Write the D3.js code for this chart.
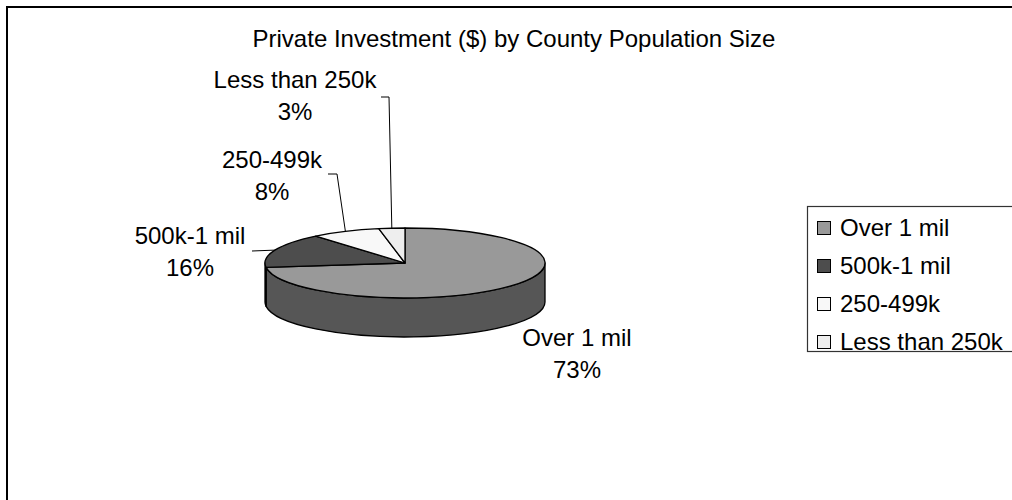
<!DOCTYPE html>
<html>
<head>
<meta charset="utf-8">
<style>
body { margin: 0; background: #fff; }
svg { display: block; font-family: "Liberation Sans", Arial, sans-serif; }
</style>
</head>
<body>
<div id="chart"></div>
<script src="https://d3js.org/d3.v7.min.js"></script>
<script>
// data
var title = "Private Investment ($) by County Population Size";
var categories = ["Over 1 mil", "500k-1 mil", "250-499k", "Less than 250k"];
var shares = [73, 16, 8, 3];
var colors = ["#999999", "#4d4d4d", "#f8f8f8", "#eeeeee"];

var width = 1012, height = 500;
var cx = 405, cy = 263, rx = 140, ry = 35, depth = 39;
var fontSize = 24;

var svg = d3.select("#chart").append("svg")
  .attr("width", width)
  .attr("height", height);

// chart frame (runs off the right and bottom edge)
svg.append("rect")
  .attr("x", 7).attr("y", 7)
  .attr("width", 1100).attr("height", 600)
  .attr("fill", "#fff")
  .attr("stroke", "#000")
  .attr("stroke-width", 2);

svg.append("text")
  .attr("x", 514).attr("y", 39)
  .attr("dy", "0.35em")
  .attr("text-anchor", "middle")
  .style("font-size", fontSize + "px")
  .text(title);

var data = categories.map(function (c, i) { return {key: c, value: shares[i], color: colors[i]}; });
var arcs = d3.pie().sort(null).value(function (d) { return d.value; })(data);

// point on the tilted ellipse, angle clockwise from 12 o'clock
function pt(a, dy) {
  return [cx + rx * Math.sin(a), cy - ry * Math.cos(a) + (dy || 0)];
}

// sides (only the front half is visible)
arcs.forEach(function (d) {
  var s0 = Math.max(d.startAngle, Math.PI / 2);
  var s1 = Math.min(d.endAngle, 3 * Math.PI / 2);
  if (s0 >= s1) return;
  var p0 = pt(s0), p1 = pt(s1), q1 = pt(s1, depth), q0 = pt(s0, depth);
  var p = "M" + p0 + "A" + rx + "," + ry + " 0 0 1 " + p1 +
          "L" + q1 + "A" + rx + "," + ry + " 0 0 0 " + q0 + "Z";
  svg.append("path")
    .attr("d", p)
    .attr("fill", d3.color(d.data.color).darker(1.6))
    .attr("stroke", "#000")
    .attr("stroke-width", 1.3)
    .attr("stroke-linejoin", "round");
});

// tops
arcs.forEach(function (d) {
  var p0 = pt(d.startAngle), p1 = pt(d.endAngle);
  var large = (d.endAngle - d.startAngle) > Math.PI ? 1 : 0;
  svg.append("path")
    .attr("d", "M" + cx + "," + cy + "L" + p0 + "A" + rx + "," + ry + " 0 " + large + " 1 " + p1 + "Z")
    .attr("fill", d.data.color)
    .attr("stroke", "#000")
    .attr("stroke-width", 1.3)
    .attr("stroke-linejoin", "round");
});

// data labels: centre of first line, and leader start points
var labelPos = {
  "Over 1 mil": {x: 577, y: 338, leader: null},
  "500k-1 mil": {x: 190, y: 236, leader: [[252, 251]]},
  "250-499k": {x: 272, y: 160, leader: [[328, 174], [337, 174]]},
  "Less than 250k": {x: 295, y: 80, leader: [[381, 97], [389, 97]]}
};
var lineGap = 32;

arcs.forEach(function (d) {
  var lp = labelPos[d.data.key];
  var t = svg.append("text")
    .attr("text-anchor", "middle")
    .style("font-size", fontSize + "px");
  t.append("tspan").attr("x", lp.x).attr("y", lp.y).attr("dy", "0.35em").text(d.data.key);
  t.append("tspan").attr("x", lp.x).attr("y", lp.y + lineGap).attr("dy", "0.35em").text(d.data.value + "%");
  if (lp.leader) {
    var pts = lp.leader.concat([pt((d.startAngle + d.endAngle) / 2)]);
    svg.append("path")
      .attr("d", d3.line()(pts))
      .attr("fill", "none")
      .attr("stroke", "#000")
      .attr("stroke-width", 1);
  }
});

// legend
var legend = svg.append("g");
legend.append("rect")
  .attr("x", 807.5).attr("y", 206.5)
  .attr("width", 300).attr("height", 145)
  .attr("fill", "#fff")
  .attr("stroke", "#333")
  .attr("stroke-width", 1.2);

var ly = d3.scalePoint().domain(categories).range([228, 342]);
categories.forEach(function (c, i) {
  legend.append("rect")
    .attr("x", 817.5).attr("y", ly(c) - 6.5)
    .attr("width", 13).attr("height", 13)
    .attr("fill", colors[i])
    .attr("stroke", "#000")
    .attr("stroke-width", 1);
  legend.append("text")
    .attr("x", 840).attr("y", ly(c))
    .attr("dy", "0.35em")
    .style("font-size", fontSize + "px")
    .text(c);
});
</script>
</body>
</html>
